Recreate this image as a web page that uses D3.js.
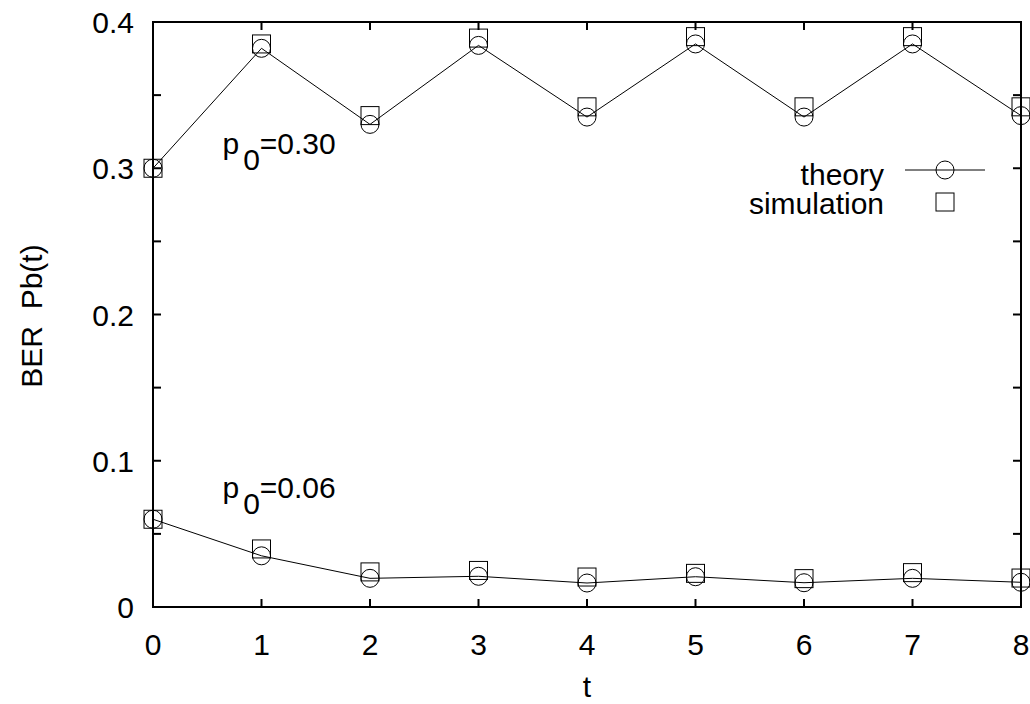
<!DOCTYPE html>
<html>
<head>
<meta charset="utf-8">
<script src="https://cdn.jsdelivr.net/npm/d3@7"></script>
<style>
  body { margin: 0; background: #fff; }
  text { font-family: "Liberation Sans", Arial, sans-serif; fill: #000; }
</style>
</head>
<body>
<div id="chart"></div>
<script>
// values
var tValues = [0, 1, 2, 3, 4, 5, 6, 7, 8];
var theoryHigh = [0.300, 0.382, 0.330, 0.384, 0.335, 0.385, 0.335, 0.385, 0.336];
var simHigh    = [0.300, 0.385, 0.336, 0.389, 0.342, 0.390, 0.342, 0.390, 0.342];
var theoryLow  = [0.060, 0.035, 0.0196, 0.021, 0.0164, 0.0207, 0.0166, 0.0196, 0.0169];
var simLow     = [0.060, 0.0397, 0.024, 0.025, 0.0205, 0.023, 0.0194, 0.0235, 0.0198];
var xTicks = [0, 1, 2, 3, 4, 5, 6, 7, 8];
var yTicks = [0, 0.05, 0.1, 0.15, 0.2, 0.25, 0.3, 0.35, 0.4];
var yLabels = [0, 0.1, 0.2, 0.3, 0.4];
var labels = [
  {t: 0.64, v: 0.31, p: "0.30"},
  {t: 0.64, v: 0.0745, p: "0.06"}
];

var width = 1030, height = 704;
var margin = {top: 22, right: 9, bottom: 97, left: 153};
var fs = 30;

var svg = d3.select("#chart").append("svg")
    .attr("width", width)
    .attr("height", height);

var x = d3.scaleLinear().domain([0, 8]).range([margin.left, width - margin.right]);
var y = d3.scaleLinear().domain([0, 0.4]).range([height - margin.bottom, margin.top]);

var tickLen = 8;

// ticks (inward, mirrored)
var g = svg.append("g");
g.selectAll("line.yl").data(yTicks).join("line").attr("class", "yl")
    .attr("x1", x(0)).attr("x2", x(0) + tickLen)
    .attr("y1", d => y(d)).attr("y2", d => y(d))
    .attr("stroke", "#000").attr("stroke-width", 2);
g.selectAll("line.yr").data(yTicks).join("line").attr("class", "yr")
    .attr("x1", x(8)).attr("x2", x(8) - tickLen)
    .attr("y1", d => y(d)).attr("y2", d => y(d))
    .attr("stroke", "#000").attr("stroke-width", 2);
g.selectAll("line.xb").data(xTicks).join("line").attr("class", "xb")
    .attr("x1", d => x(d)).attr("x2", d => x(d))
    .attr("y1", y(0)).attr("y2", y(0) - tickLen)
    .attr("stroke", "#000").attr("stroke-width", 2);
g.selectAll("line.xt").data(xTicks).join("line").attr("class", "xt")
    .attr("x1", d => x(d)).attr("x2", d => x(d))
    .attr("y1", y(0.4)).attr("y2", y(0.4) + tickLen)
    .attr("stroke", "#000").attr("stroke-width", 2);

// frame
svg.append("rect")
    .attr("x", x(0)).attr("y", y(0.4))
    .attr("width", x(8) - x(0)).attr("height", y(0) - y(0.4))
    .attr("fill", "none").attr("stroke", "#000").attr("stroke-width", 2);

// tick labels
svg.selectAll("text.xlab").data(xTicks).join("text").attr("class", "xlab")
    .attr("x", d => x(d)).attr("y", y(0) + 48)
    .attr("text-anchor", "middle").style("font-size", fs + "px")
    .text(d => d);
svg.selectAll("text.ylab").data(yLabels).join("text").attr("class", "ylab")
    .attr("x", x(0) - 19).attr("y", d => y(d) + 11)
    .attr("text-anchor", "end").style("font-size", fs + "px")
    .text(d => d === 0 ? "0" : d3.format(".1f")(d));

// axis titles
svg.append("text")
    .attr("x", (x(0) + x(8)) / 2).attr("y", 697)
    .attr("text-anchor", "middle").style("font-size", fs + "px")
    .text("t");
svg.append("text")
    .attr("transform", "translate(42," + 316 + ") rotate(-90)")
    .attr("text-anchor", "middle").style("font-size", fs + "px")
    .attr("xml:space", "preserve")
    .text("BER  Pb(t)");

// lines + markers
var line = d3.line().x((d, i) => x(tValues[i])).y(d => y(d));
var r = 9;

function drawSeries(theory, sim) {
    svg.append("path").datum(theory)
        .attr("d", line)
        .attr("fill", "none").attr("stroke", "#000").attr("stroke-width", 1);
    svg.append("g").selectAll("circle").data(theory).join("circle")
        .attr("cx", (d, i) => x(tValues[i])).attr("cy", d => y(d)).attr("r", r)
        .attr("fill", "none").attr("stroke", "#000").attr("stroke-width", 1);
    svg.append("g").selectAll("rect").data(sim).join("rect")
        .attr("x", (d, i) => x(tValues[i]) - r).attr("y", d => y(d) - r)
        .attr("width", 2 * r).attr("height", 2 * r)
        .attr("fill", "none").attr("stroke", "#000").attr("stroke-width", 1);
}
drawSeries(theoryHigh, simHigh);
drawSeries(theoryLow, simLow);

// p0 labels
labels.forEach(function(l) {
    var t = svg.append("text")
        .attr("x", x(l.t)).attr("y", y(l.v))
        .style("font-size", fs + "px");
    t.append("tspan").text("p");
    t.append("tspan").attr("dy", 16).attr("dx", 4).text("0");
    t.append("tspan").attr("dy", -16).text("=" + l.p);
});

// legend
var lg = svg.append("g");
lg.append("text").attr("x", 884).attr("y", 185)
    .attr("text-anchor", "end").style("font-size", fs + "px").text("theory");
lg.append("text").attr("x", 884).attr("y", 214)
    .attr("text-anchor", "end").style("font-size", fs + "px").text("simulation");
lg.append("line").attr("x1", 905).attr("x2", 985).attr("y1", 170).attr("y2", 170)
    .attr("stroke", "#000").attr("stroke-width", 1);
lg.append("circle").attr("cx", 945).attr("cy", 170).attr("r", r)
    .attr("fill", "none").attr("stroke", "#000").attr("stroke-width", 1);
lg.append("rect").attr("x", 945 - r).attr("y", 202 - r).attr("width", 2 * r).attr("height", 2 * r)
    .attr("fill", "none").attr("stroke", "#000").attr("stroke-width", 1);
</script>
</body>
</html>
